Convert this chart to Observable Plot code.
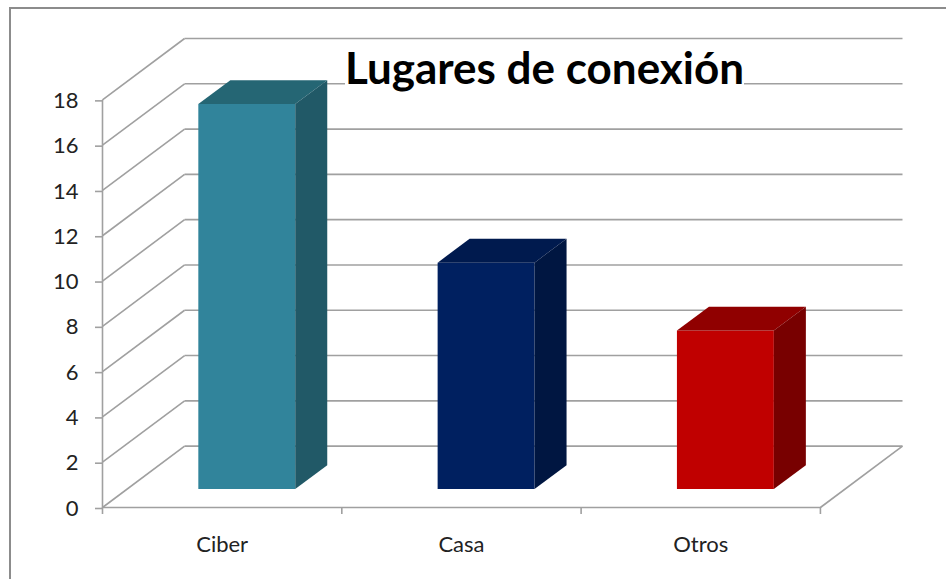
<!DOCTYPE html>
<html>
<head>
<meta charset="utf-8">
<script src="https://cdn.jsdelivr.net/npm/d3@7"></script>
<script src="https://cdn.jsdelivr.net/npm/@observablehq/plot@0.6"></script>
<style>
  html, body { margin: 0; padding: 0; background: #fff; overflow: hidden; }
  #wrap { position: relative; width: 946px; height: 579px; font-family: Lato, "Open Sans", sans-serif; }
  #frame { position: absolute; left: 9px; top: 7px; width: 1200px; height: 1200px;
           border-top: 2px solid #8c8c8c; border-left: 2px solid #8c8c8c; box-sizing: border-box; }
  #title { position: absolute; left: 345px; top: 45px; font: bold 44px Lato, sans-serif; line-height: 44px;
           background: #fff; color: #000; white-space: nowrap; }
  #chart { position: absolute; left: 0; top: 0; }
</style>
</head>
<body>
<div id="wrap">
  <div id="chart"></div>
  <div id="frame"></div>
  <div id="title">Lugares de conexión</div>
</div>
<script>
// ---- data ----
const categories = ["Ciber", "Casa", "Otros"];
const values = [17, 10, 7];
const frontColors = ["#31849B", "#002060", "#C00000"];
const topColors = ["#256674", "#001A4E", "#900000"];
const sideColors = ["#215967", "#001641", "#780000"];
const yTicks = [0, 2, 4, 6, 8, 10, 12, 14, 16, 18];

// ---- oblique 3D projection (depth expressed in data units) ----
const DX = 0.343;   // x shift of the back wall, in category units
const DY = 2.71;    // y shift of the back wall, in value units
const D0 = 0.30, D1 = 0.69; // bar front / back depth
const HALF = 0.2025;        // half bar width in category units
const proj = (c, v, d) => ({x: c + DX * d, y: v + DY * d});
const n = categories.length;
const yMax = yTicks[yTicks.length - 1];

// grid: back wall lines, left wall diagonals, floor
const segs = [];
for (const t of yTicks) {
  const a = proj(0, t, 1), b = proj(n, t, 1), f = proj(0, t, 0);
  segs.push({x1: a.x, y1: a.y, x2: b.x, y2: b.y});
  segs.push({x1: f.x, y1: f.y, x2: a.x, y2: a.y});
}
{
  const a = proj(0, 0, 0), b = proj(n, 0, 0), c = proj(n, 0, 1);
  segs.push({x1: a.x, y1: a.y, x2: b.x, y2: b.y});
  segs.push({x1: b.x, y1: b.y, x2: c.x, y2: c.y});
  const t = proj(0, yMax, 0);
  segs.push({x1: a.x, y1: a.y, x2: t.x, y2: t.y});
}

// bar faces as polygons
const faces = [];
categories.forEach((cat, i) => {
  const v = values[i], l = i + 0.5 - HALF, r = i + 0.5 + HALF;
  const poly = (name, color, pts) => pts.forEach(p => faces.push({face: cat + name, color, ...p}));
  poly("-front", frontColors[i], [proj(l, 0, D0), proj(r, 0, D0), proj(r, v, D0), proj(l, v, D0)]);
  poly("-top", topColors[i], [proj(l, v, D0), proj(r, v, D0), proj(r, v, D1), proj(l, v, D1)]);
  poly("-side", sideColors[i], [proj(r, 0, D0), proj(r, 0, D1), proj(r, v, D1), proj(r, v, D0)]);
});

const chart = Plot.plot({
  width: 946,
  height: 579,
  marginLeft: 102,
  marginRight: 44,
  marginTop: 38,
  marginBottom: 72,
  style: {fontFamily: "Lato, sans-serif", fontSize: "22px", color: "#222", background: "transparent"},
  x: {domain: [0, n + DX], axis: null},
  y: {domain: [0, yMax + DY], axis: null},
  color: {type: "identity"},
  marks: [
    Plot.link(segs, {x1: "x1", y1: "y1", x2: "x2", y2: "y2", stroke: "#a0a0a0", strokeWidth: 1.6}),
    Plot.axisY({ticks: yTicks, tickSize: 7, tickPadding: 17, stroke: "#a0a0a0", strokeWidth: 1.6, fill: "#222", fontSize: 22, label: null, dy: 1}),
    Plot.axisX({ticks: d3.range(n + 1), tickSize: 7, tickFormat: () => "", stroke: "#a0a0a0", strokeWidth: 1.6, label: null}),
    Plot.text(categories, {x: (d, i) => i + 0.5, y: 0, text: d => d, dy: 37, fontSize: 22, fill: "#222"}),
    Plot.line(faces, {x: "x", y: "y", z: "face", fill: "color", stroke: "none", curve: "linear"})
  ]
});
document.getElementById("chart").appendChild(chart);
</script>
</body>
</html>
